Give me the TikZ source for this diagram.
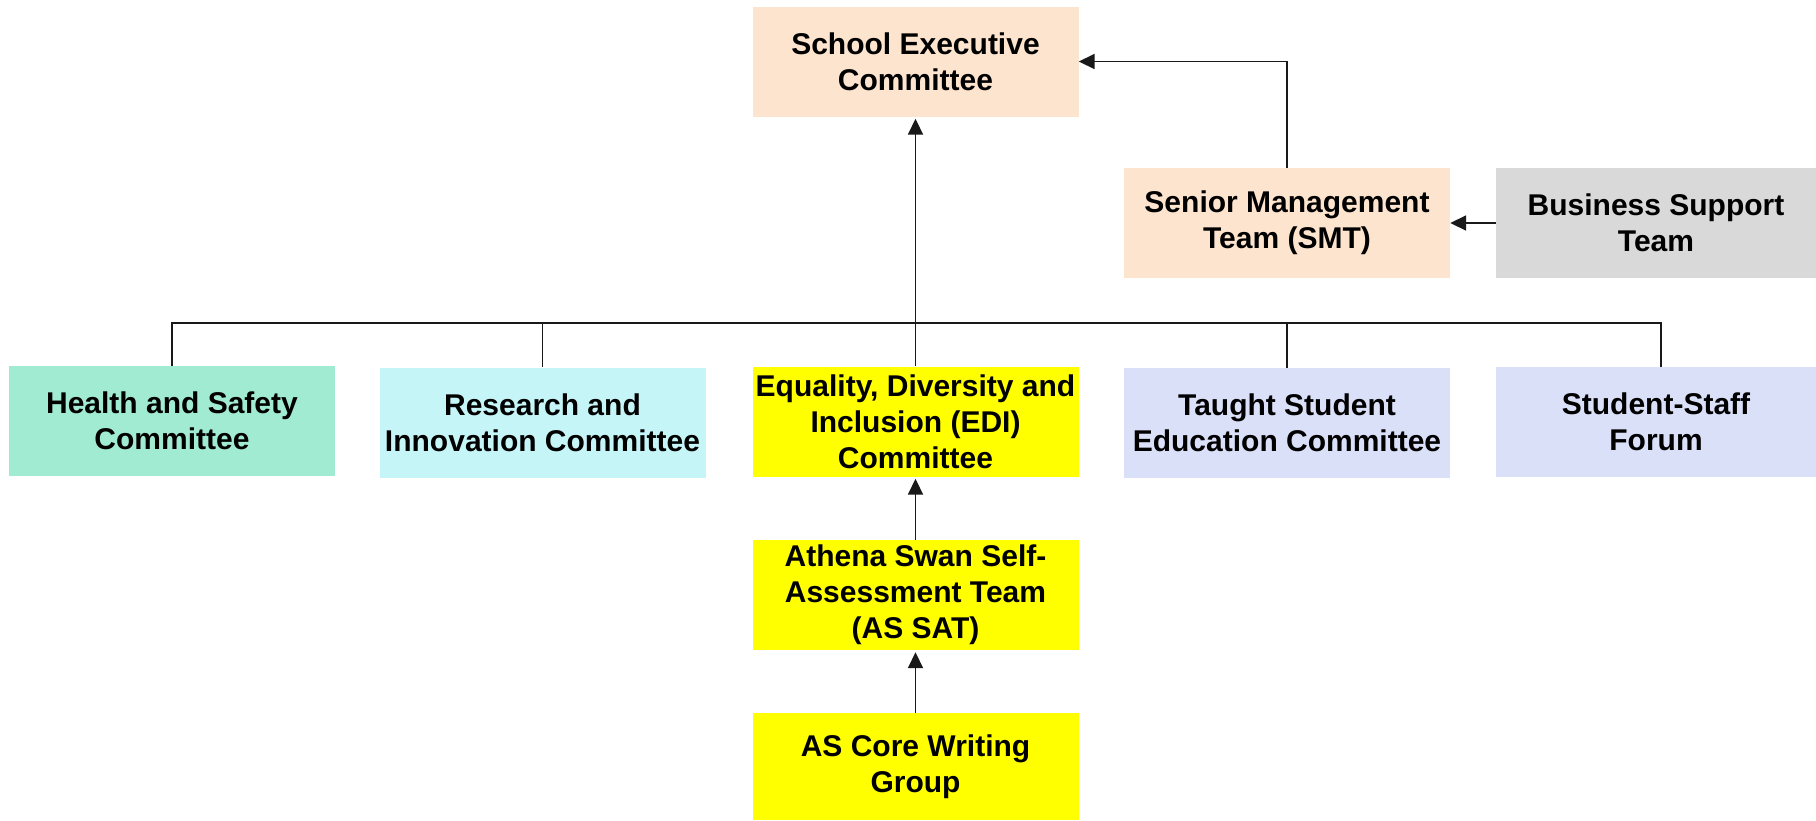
\documentclass[tikz,border=0pt]{standalone}
\usepackage{fontspec}
\setmainfont{Liberation Sans}
\usetikzlibrary{arrows.meta}
\definecolor{peach}{HTML}{FDE4CF}
\definecolor{greybox}{HTML}{D9D9D9}
\definecolor{mint}{HTML}{A2EBD3}
\definecolor{paleaqua}{HTML}{C6F5F8}
\definecolor{lavender}{HTML}{DAE0F8}
\definecolor{brightyellow}{HTML}{FFFF00}
\begin{document}
\begin{tikzpicture}[x=1pt,y=-1pt,
  box/.style={minimum width=326pt, minimum height=110pt, inner sep=0pt,
    align=center, text=black,
    font=\fontsize{30}{36}\selectfont\bfseries},
  edgebox/.style={box, minimum width=320pt},
  link/.style={draw=black!90, line width=1.8pt},
  arr/.style={link, -{Triangle[length=16pt,width=15pt]}}]
\useasboundingbox (0,0) rectangle (1816,820);

% top level
\node[box, fill=peach] (sec) at (915.5,61.5) {School Executive\\Committee};
\node[box, fill=peach] (smt) at (1287,223) {Senior Management\\Team (SMT)};
\node[edgebox, fill=greybox] (bst) at (1656,223) {Business Support\\Team};

% committees
\node[box, fill=mint] (hs) at (172,421) {Health and Safety\\Committee};
\node[box, fill=paleaqua] (ri) at (542.5,422.5) {Research and\\Innovation Committee};
\node[box, fill=brightyellow] (edi) at (915.5,421.5) {Equality, Diversity and\\Inclusion (EDI)\\Committee};
\node[box, fill=lavender] (tse) at (1287,423) {Taught Student\\Education Committee};
\node[edgebox, fill=lavender] (ssf) at (1656,422) {Student-Staff\\Forum};

% Athena Swan groups
\node[box, fill=brightyellow] (sat) at (915.5,595) {Athena Swan Self-\\Assessment Team\\(AS SAT)};
\node[box, fill=brightyellow, minimum height=107pt] (core) at (915.5,766.5) {AS Core Writing\\Group};

% reporting bus
\coordinate (bus) at (0,323);
\coordinate (ssftop) at (1661,367);
\draw[link] (hs.north) -- (hs.north |- bus) -- (ssftop |- bus) -- (ssftop);
\draw[link] (ri.north) -- (ri.north |- bus);
\draw[link] (tse.north) -- (tse.north |- bus);

% arrows
\draw[arr, shorten >=2pt] (edi.north) -- (sec.south);
\draw[arr] (smt.north) |- (sec.east);
\draw[arr] (bst.west) -- (smt.east);
\draw[arr, shorten >=2pt] (sat.north) -- (edi.south);
\draw[arr, shorten >=2pt] (core.north) -- (sat.south);
\end{tikzpicture}
\end{document}
